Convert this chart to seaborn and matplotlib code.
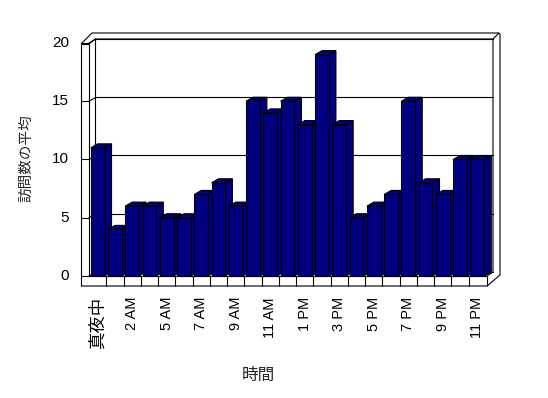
import matplotlib
matplotlib.use('Agg')
import matplotlib.pyplot as plt
import seaborn as sns
from matplotlib.patches import Polygon

# --- data ---
hours = ['真夜中', '1 AM', '2 AM', '3 AM', '5 AM', '6 AM', '7 AM', '8 AM', '9 AM',
         '10 AM', '11 AM', '正午', '1 PM', '2 PM', '3 PM', '4 PM', '5 PM', '6 PM',
         '7 PM', '8 PM', '9 PM', '10 PM', '11 PM']
visits = [11, 4, 6, 6, 5, 5, 7, 8, 6, 15, 14, 15, 13, 19, 13, 5, 6, 7, 15, 8, 7, 10, 10]
y_ticks = [0, 5, 10, 15, 20]
x_title = '時間'
y_title = '訪問数の平均'

# --- layout (pixels) ---
W, H = 548, 398
BACK_L, BACK_R, BACK_T, BACK_B = 96, 493, 39, 272   # back wall of the 3D box
DEPTH_X, DEPTH_Y = 7, 4                               # front -> back offset
NAVY = '#000080'
LW = 0.8

sns.set_theme(style='white')
plt.rcParams['font.family'] = ['Liberation Sans', 'Noto Sans CJK JP']

fig = plt.figure(figsize=(W / 100, H / 100), dpi=100, facecolor='white')
ax = fig.add_axes([BACK_L / W, 1 - BACK_B / H, (BACK_R - BACK_L) / W, (BACK_B - BACK_T) / H])

sns.barplot(x=hours, y=visits, color=NAVY, saturation=1, width=0.8,
            edgecolor='black', linewidth=LW, ax=ax)
n = len(hours)
ymax = y_ticks[-1]
ax.set_xlim(-0.5, n - 0.5)
ax.set_ylim(0, ymax)
ax.set_axis_off()

# pixel -> data helpers
sx = n / (BACK_R - BACK_L)
sy = ymax / (BACK_B - BACK_T)
def X(p): return -0.5 + (p - BACK_L) * sx
def Y(p): return (BACK_B - p) * sy
dx, dy = -DEPTH_X * sx, -DEPTH_Y * sy

def seg(pts, z=50):
    xs = [X(a) for a, b in pts]
    ys = [Y(b) for a, b in pts]
    ax.plot(xs, ys, color='black', lw=LW, clip_on=False, zorder=z, solid_capstyle='butt')

# back wall gridlines + left wall diagonals + ticks
for v in y_ticks:
    ax.plot([-0.5, n - 0.5], [v, v], color='black', lw=LW, zorder=1, clip_on=False)
    ax.plot([-0.5 + dx, -0.5], [v + dy, v], color='black', lw=LW, zorder=1, clip_on=False)
    ax.plot([X(81), -0.5 + dx], [v + dy, v + dy], color='black', lw=LW, zorder=50, clip_on=False)
    ax.text(X(69), v + dy, str(v), ha='right', va='center', fontsize=11, color='black')

# box frame
seg([(81, 44), (81, 286)])
seg([(89, 44), (89, 276)])
seg([(81, 44), (89, 44)])
seg([(81, 44), (92, 33), (499, 33), (500, 34), (500, 275), (487, 286), (81, 286)])
seg([(89, 44), (95, 39), (493, 39), (493, 272)], z=1)
seg([(95, 39), (95, 272)], z=1)
seg([(89, 276), (487, 276), (487, 286)])
seg([(487, 276), (493, 272)], z=1)
seg([(499, 33), (493, 39)])

# floor front dividers
for k in range(1, n):
    ax.plot([k - 0.5 + dx] * 2, [Y(276), Y(286)], color='black', lw=LW, clip_on=False, zorder=50)

# 3D bars: top and side faces, then shifted front face
for i, p in enumerate(ax.patches):
    x0, w, h = p.get_x(), p.get_width(), p.get_height()
    side = [(x0 + w + dx, dy), (x0 + w, 0), (x0 + w, h), (x0 + w + dx, h + dy)]
    top = [(x0 + dx, h + dy), (x0, h), (x0 + w, h), (x0 + w + dx, h + dy)]
    for face in (side, top):
        ax.add_patch(Polygon(face, closed=True, facecolor=NAVY, edgecolor='black',
                             lw=LW, zorder=3 + 2 * i, clip_on=False))
    p.set_x(x0 + dx)
    p.set_y(dy)
    p.set_zorder(4 + 2 * i)
    p.set_clip_on(False)

# x tick labels (every other category)
for i in range(0, n, 2):
    size = 12.5 if hours[i] == '真夜中' else 10.5
    ax.text(i + dx, Y(297), hours[i], rotation=90, ha='center', va='top',
            fontsize=size, color='black')

fig.text(258 / W, 1 - 375 / H, x_title, ha='center', va='center', fontsize=12)
fig.text(26 / W, 1 - 158 / H, y_title, ha='center', va='center', rotation=90, fontsize=10.5)

fig.savefig('out.png', dpi=100, facecolor='white')
